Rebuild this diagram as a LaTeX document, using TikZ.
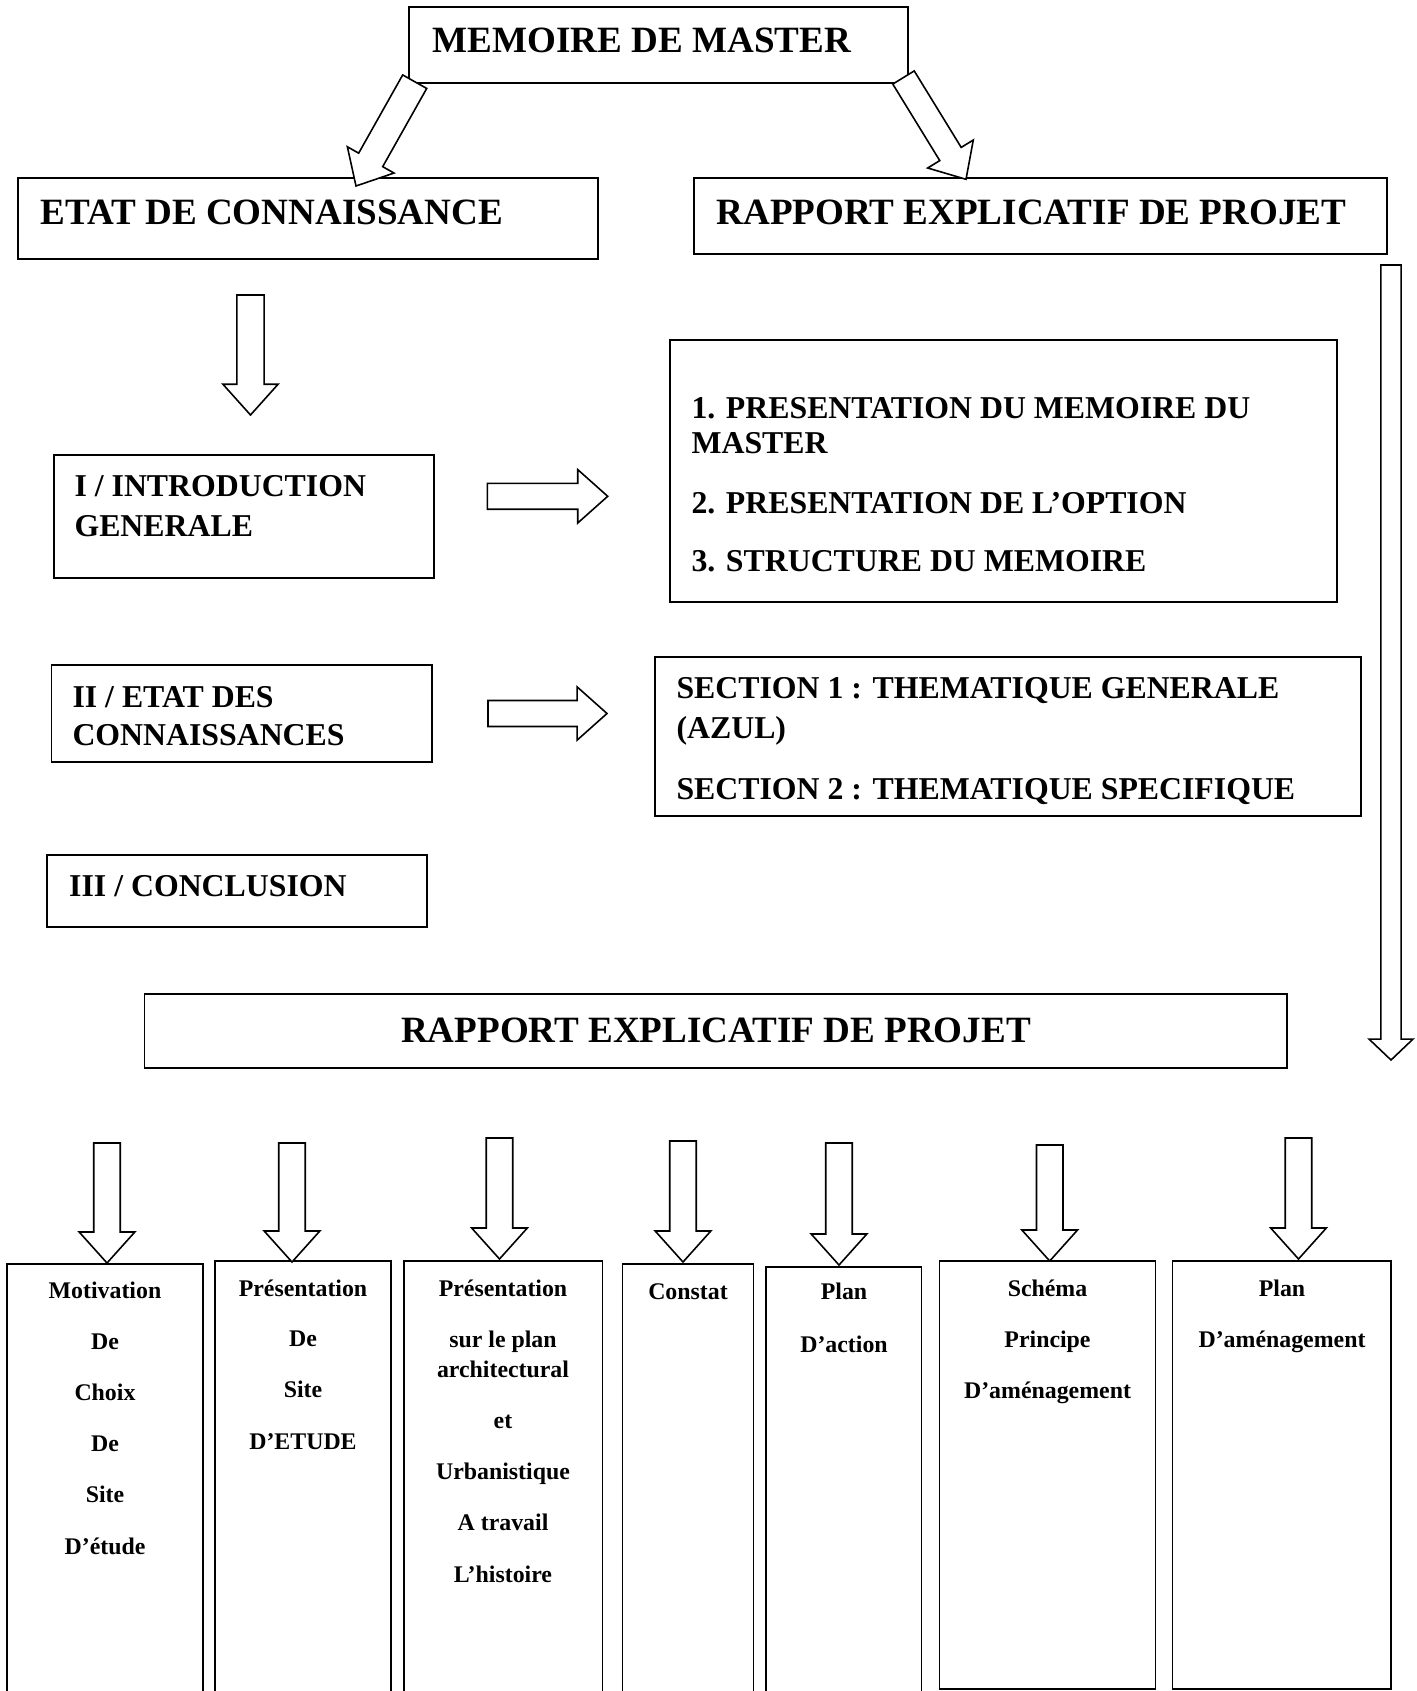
\documentclass[tikz,border=0pt]{standalone}
\usepackage{fontspec}
\setmainfont{Liberation Serif}
\usetikzlibrary{calc,fit}
\tikzset{>=latex}
\tikzstyle{box}=[rectangle,draw,line width=0.6pt,inner sep=0pt]
\tikzstyle{big}=[inner sep=0pt,anchor=base west,font=\fontsize{14}{16}\selectfont\bfseries]
\tikzstyle{mid}=[inner sep=0pt,anchor=base west,font=\fontsize{12}{14}\selectfont\bfseries]
\tikzstyle{small}=[inner sep=0pt,anchor=base,font=\fontsize{9}{11}\selectfont\bfseries]
\tikzstyle{hollow}=[draw,line width=0.6pt,fill=white,line join=miter]

% hollow block arrow: from, to, half shaft, half head, head length
\newcommand{\hollowarrow}[5]{%
  \draw[hollow] ($(#1)!#3!90:(#2)$)
    -- ($(#2)!#5!(#1)!#3!-90:(#1)$)
    -- ($(#2)!#5!(#1)!#4!-90:(#1)$)
    -- (#2)
    -- ($(#2)!#5!(#1)!#4!90:(#1)$)
    -- ($(#2)!#5!(#1)!#3!90:(#1)$)
    -- ($(#1)!#3!-90:(#2)$) -- cycle;}

\begin{document}
\begin{tikzpicture}[x=0.3774pt,y=-0.3774pt]
	\useasboundingbox (0,0) rectangle (1416,1691);
	\clip (0,0) rectangle (1416,1691);

	% boxes
	\node[box,fit={(409,7) (908,83)}] (memoire) {};
	\node[box,fit={(18,178) (598,259)}] (etat) {};
	\node[box,fit={(694,178) (1387,254)}] (rapport) {};
	\node[box,fit={(54,455) (434,578)}] (intro) {};
	\node[box,fit={(670,340) (1337,602)}] (pres) {};
	\node[box,fit={(51.5,665) (432,762)}] (connais) {};
	\node[box,fit={(655,657) (1361,816)}] (section) {};
	\node[box,fit={(47,855) (427,927)}] (concl) {};
	\node[box,fit={(144.5,994) (1287,1068)}] (rapportbas) {};

	\node[box,fit={(7,1264) (203,1700)}] (col1) {};
	\node[box,fit={(215,1261) (391,1700)}] (col2) {};
	\node[box,fit={(404,1261) (602.5,1700)}] (col3) {};
	\node[box,fit={(622.4,1264) (753.4,1700)}] (col4) {};
	\node[box,fit={(766,1267) (921.4,1700)}] (col5) {};
	\node[box,fit={(939.5,1261) (1155.4,1689)}] (col6) {};
	\node[box,fit={(1172.5,1261) (1391,1689)}] (col7) {};

	% arrows
	\coordinate (dgs) at (414.7,81.7);
	\coordinate (dge) at (356,186);
	\hollowarrow{dgs}{dge}{5.2pt}{10.1pt}{11.3pt}
	\coordinate (dds) at (903.5,77.5);
	\coordinate (dde) at (966,179.3);
	\hollowarrow{dds}{dde}{4.75pt}{10.1pt}{11.2pt}

	\coordinate (ets) at (250.5,295);
	\coordinate (ete) at (250.5,415);
	\hollowarrow{ets}{ete}{5.15pt}{10.4pt}{11.6pt}

	\coordinate (lgs) at (1391,265);
	\coordinate (lge) at (1391,1060);
	\hollowarrow{lgs}{lge}{3.8pt}{8.3pt}{7.9pt}

	\coordinate (h1s) at (487.3,496.3);
	\coordinate (h1e) at (607.7,496.3);
	\hollowarrow{h1s}{h1e}{4.9pt}{10.07pt}{11.3pt}
	\coordinate (h2s) at (488,713.5);
	\coordinate (h2e) at (607,713.5);
	\hollowarrow{h2s}{h2e}{4.9pt}{10.07pt}{11.3pt}

	\foreach \x/\t/\b [count=\n] in {107/1143/1263, 292/1143/1262, 499.5/1138/1259, 683/1141/1262, 839/1143/1265, 1049.7/1145/1261, 1298.5/1138/1259}
	{
		\coordinate (bs\n) at (\x,\t);
		\coordinate (be\n) at (\x,\b);
		\hollowarrow{bs\n}{be\n}{5pt}{10.5pt}{11.7pt}
	}

	% texts
	\node[big] (tmemoire) at (432,53) {MEMOIRE DE MASTER};
	\node[big] (tetat) at (40,225) {ETAT DE CONNAISSANCE};
	\node[big] (trapport) at (716,225) {RAPPORT EXPLICATIF DE PROJET};
	\node[big,anchor=base] (trapportbas) at (716,1042) {RAPPORT EXPLICATIF DE PROJET};

	\node[mid] (tintro1) at (74,496) {I / INTRODUCTION};
	\node[mid] (tintro2) at (74,536.5) {GENERALE};
	\node[mid] (tpres1) at (691,418) {1. PRESENTATION DU MEMOIRE DU};
	\node[mid] (tpres2) at (691,453) {MASTER};
	\node[mid] (tpres3) at (691,513) {2. PRESENTATION DE L’OPTION};
	\node[mid] (tpres4) at (691,571) {3. STRUCTURE DU MEMOIRE};
	\node[mid] (tconn1) at (72,707) {II / ETAT DES};
	\node[mid] (tconn2) at (72,745) {CONNAISSANCES};
	\node[mid] (tsec1) at (676,698.5) {SECTION 1 : THEMATIQUE GENERALE};
	\node[mid] (tsec2) at (676,738) {(AZUL)};
	\node[mid] (tsec3) at (676,799) {SECTION 2 : THEMATIQUE SPECIFIQUE};
	\node[mid] (tconcl) at (68.7,896) {III / CONCLUSION};

	\foreach \x/\y/\t [count=\n] in {
		105/1298/Motivation, 105/1349/De, 105/1400/Choix, 105/1451/De, 105/1502/Site, 105/1554/D’étude,
		303/1296/Présentation, 303/1346.5/De, 303/1397.5/Site, 303/1449/D’ETUDE,
		503/1296/Présentation, 503/1347/sur le plan, 503/1377/architectural, 503/1428/et, 503/1479/Urbanistique, 503/1530/A travail, 503/1582/L’histoire,
		688/1299/Constat,
		844/1299/Plan, 844/1352/D’action,
		1047.5/1296/Schéma, 1047.5/1347/Principe, 1047.5/1398/D’aménagement,
		1282/1296/Plan, 1282/1347/D’aménagement}
	{
		\node[small] (lbl\n) at (\x,\y) {\t};
	}
\end{tikzpicture}
\end{document}
